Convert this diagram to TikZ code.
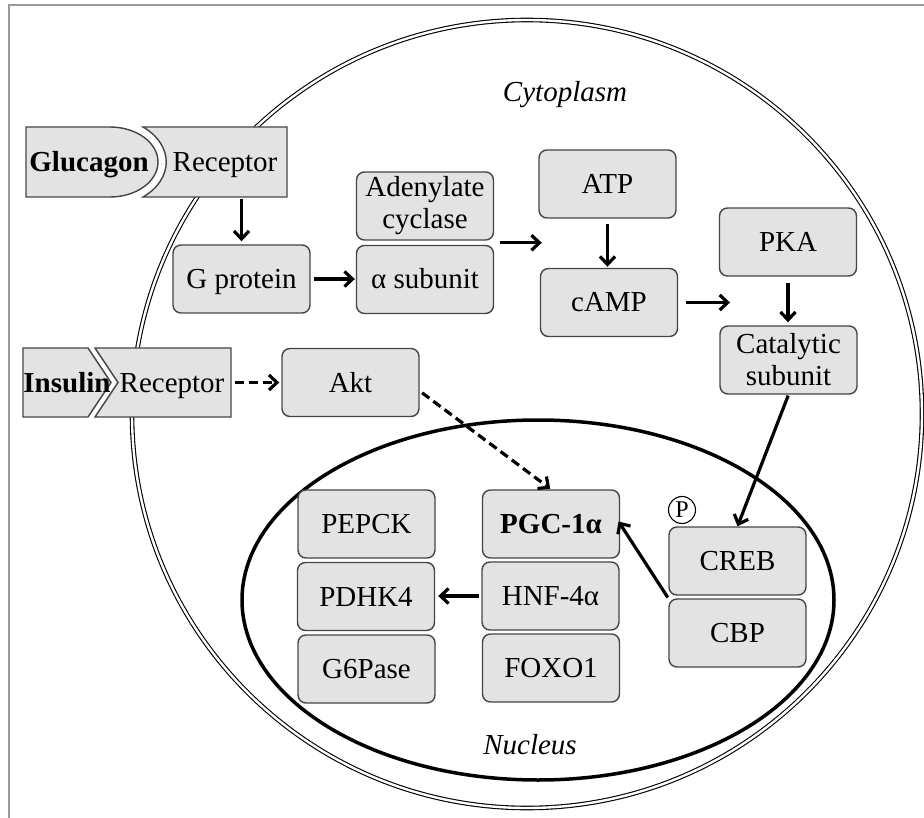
\documentclass[tikz,border=0pt]{standalone}
\usepackage{fontspec}
\setmainfont{Liberation Serif}
\usetikzlibrary{arrows.meta,calc}
\definecolor{boxfill}{HTML}{E3E3E3}
\definecolor{boxline}{HTML}{454545}
\definecolor{framegray}{HTML}{9A9A9A}
\begin{document}
\begin{tikzpicture}[x=1pt,y=-1pt,
 txt/.style={font=\fontsize{29}{32}\selectfont},
 txtb/.style={font=\fontsize{29}{32}\selectfont\bfseries},
 txti/.style={font=\fontsize{29}{32}\selectfont\itshape},
 box/.style={txt,draw=boxline,fill=boxfill,line width=1.4pt,rounded corners=8pt,
   minimum width=137pt,minimum height=68pt,inner sep=0pt,align=center},
 one/.style={text height=19pt,text depth=0pt},
 shp/.style={draw=boxline,fill=boxfill,line width=1.4pt},
 arr/.style={line width=3.2pt,-{Straight Barb[length=8pt,width=15pt]}},
 darr/.style={arr,dash pattern=on 9pt off 5pt}
]
\useasboundingbox (0,0) rectangle (924,818);
% frame
\draw[framegray,line width=2pt] (9,818) -- (9,5) -- (924,5);
% cell and nucleus
\draw[line width=1.1pt,double=white,double distance=2.4pt] (527,414) ellipse [x radius=395, y radius=394];
\draw[line width=3.5pt] (538,600) ellipse [x radius=296, y radius=180];
% ligands and receptors
\path[shp] (26,127) -- (110,127) arc[start angle=-90,end angle=90,x radius=48,y radius=35] -- (26,197) -- cycle;
\path[shp] (143,127) -- (287,127) -- (287,197) -- (143,197) .. controls (174,179) and (174,145) .. (143,127) -- cycle;
\path[shp] (23,348) -- (88,348) -- (111,382.5) -- (88,417) -- (23,417) -- cycle;
\path[shp] (95,348) -- (231,348) -- (231,417) -- (95,417) -- (118,382.5) -- cycle;
\node[txtb,one] (glucagon) at (89,162) {Glucagon};
\node[txt,one] (rec1) at (225,162) {Receptor};
\node[txtb,one] (insulin) at (67,382.5) {Insulin};
\node[txt,one] (rec2) at (172,382.5) {Receptor};
\coordinate (rec1s) at (243,197);
\coordinate (rec2e) at (231,382.5);
% boxes
\node[box,one] (Gprot) at (241.5,279) {G protein};
\node[box] (AC) at (425,206) {Adenylate\\cyclase};
\node[box,one] (alpha) at (425,279.5) {α subunit};
\node[box,one] (ATP) at (607.5,184) {ATP};
\node[box,one] (cAMP) at (609,302.5) {cAMP};
\node[box,one] (PKA) at (788,242) {PKA};
\node[box] (Cat) at (788.5,360) {Catalytic\\subunit};
\node[box,one] (Akt) at (350.5,382.5) {Akt};
\node[box,one] (PEPCK) at (366.5,524) {PEPCK};
\node[box,one] (PDHK) at (366,596.5) {PDHK4};
\node[box,one] (G6P) at (366.5,669) {G6Pase};
\node[box,one,font=\fontsize{29}{32}\selectfont\bfseries] (PGC) at (551,524) {PGC-1α};
\node[box,one] (HNF) at (550.5,596) {HNF-4α};
\node[box,one] (FOXO) at (551,668) {FOXO1};
\node[box,one] (CREB) at (737.5,561) {CREB};
\node[box,one] (CBP) at (737.5,633) {CBP};
\node[draw,circle,line width=1.1pt,fill=white,minimum size=27pt,inner sep=0pt,
  font=\fontsize{24}{24}\selectfont] (P) at (682,510) {P};
% labels
\node[txti] (cyto) at (565,95) {Cytoplasm};
\node[txti] (nuc) at (530,745) {Nucleus};
% connectors
\coordinate (j1) at ($(AC.south east)!0.5!(alpha.north east)$);
\coordinate (j2) at ($(PKA.south west)!0.5!(Cat.north west)$);
\draw[arr,shorten <=2pt,shorten >=3pt] (rec1s -| Gprot.north) -- (Gprot.north);
\draw[arr,shorten <=3pt,shorten >=1pt] (Gprot.east) -- (Gprot.east -| alpha.west);
\draw[arr,shorten <=6pt,shorten >=-2pt] (j1) -- (j1 -| cAMP.west);
\draw[arr,shorten <=5pt,shorten >=1pt] (ATP.south) -- (ATP.south |- cAMP.north);
\draw[arr,shorten <=8pt,shorten >=-11pt] (cAMP.east) -- (cAMP.east -| j2);
\draw[arr,shorten <=6pt,shorten >=3pt] (PKA.south) -- (PKA.south |- Cat.north);
\draw[arr,shorten <=1pt] (Cat.south) -- (CREB.north);
\draw[darr,shorten <=4pt,shorten >=2pt] (rec2e) -- (rec2e -| Akt.west);
\draw[darr,shorten <=3pt,shorten >=1pt] (Akt.-7) -- (PGC.north);
\draw[arr,shorten <=1pt,shorten >=-3pt] (CBP.north west) -- (PGC.east);
\draw[arr,shorten <=2pt,shorten >=3pt] (HNF.west) -- (HNF.west -| PDHK.east);
\end{tikzpicture}
\end{document}
